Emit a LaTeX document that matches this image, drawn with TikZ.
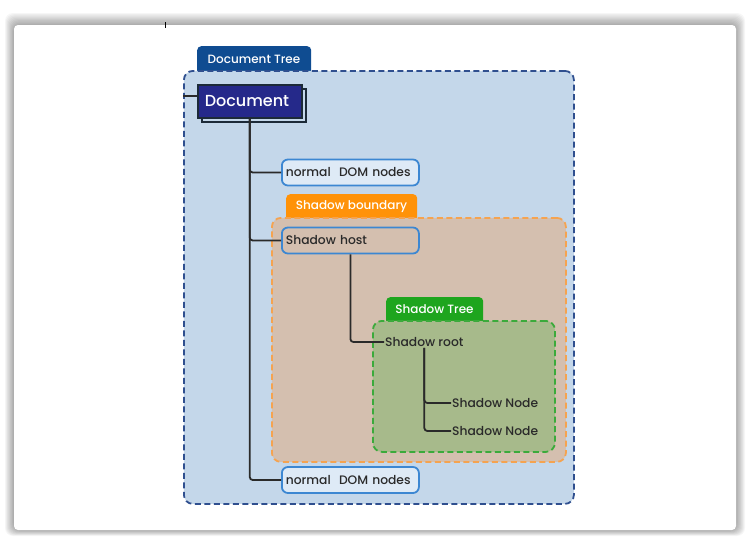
\documentclass[tikz,border=0pt]{standalone}
\usepackage{fontspec}
\setmainfont{Poppins}[UprightFont=* Medium]
\definecolor{regblue}{HTML}{C4D7EA}
\definecolor{regblueb}{HTML}{2F4F8F}
\definecolor{tabblue}{HTML}{0F4C91}
\definecolor{docfill}{HTML}{25298A}
\definecolor{docline}{HTML}{1C2A38}
\definecolor{boxline}{HTML}{3C87D2}
\definecolor{boxfill}{HTML}{DEEAF6}
\definecolor{orfill}{HTML}{D4BFAF}
\definecolor{orline}{HTML}{F5A350}
\definecolor{ortab}{HTML}{FF9208}
\definecolor{grfill}{HTML}{A7BA8B}
\definecolor{grline}{HTML}{3BAA3B}
\definecolor{grtab}{HTML}{1EA51E}
\definecolor{txt}{HTML}{2A2A2A}
\tikzset{
  region/.style={rounded corners=9pt, line width=1.8pt, dash pattern=on 6pt off 3.5pt},
  tabbox/.style={rounded corners=4pt, inner sep=0pt},
  tabtext/.style={text=white, font=\fontsize{12}{14}\selectfont, inner sep=0pt},
  domnode/.style={draw=boxline, line width=1.8pt, rounded corners=6pt, anchor=west, minimum width=137pt, minimum height=26pt, inner sep=0pt, text width=129pt, align=left, text=txt, font=\fontsize{12.3}{14}\selectfont},
  plain/.style={anchor=west, inner sep=1pt, text=txt, font=\fontsize{12.3}{14}\selectfont},
  conn/.style={draw=txt, line width=1.8pt, rounded corners=3pt}
}
\begin{document}
\begin{tikzpicture}[x=1pt,y=-1pt]
\useasboundingbox (0,0) rectangle (748,546);
\fill[white] (0,0) rectangle (748,546);
% card shadow
\foreach \i in {1,...,10}{
  \fill[black, opacity=0.035, rounded corners=8pt] (14-\i*0.9,25-\i*1.2) rectangle (736+\i*0.9,530+\i*0.6);
}
\fill[white, rounded corners=4pt] (14,25) rectangle (736,530);
\draw[black, line width=0.8pt] (165,22) -- (165,28);

% Document Tree region
\node[tabbox, fill=tabblue, minimum width=114pt, minimum height=30pt, anchor=north west] (dttab) at (197,46) {};
\node[tabtext] (dttext) at (254,59) {Document Tree};
\node[region, draw=regblueb, fill=regblue, minimum width=390pt, minimum height=433pt, anchor=north west] (dt) at (183,70) {};

% Document node
\node[draw=docline, line width=1.5pt, minimum width=104pt, minimum height=33pt, anchor=north west, fill=regblue] (docsh) at (201,88) {};
\node[draw=docline, line width=1.5pt, fill=docfill, minimum width=104pt, minimum height=33pt, anchor=north west, text=white, font=\fontsize{16}{19}\selectfont, inner sep=0pt, text width=90pt, align=left] (doc) at (197,84) {Document};

% Shadow boundary region
\node[tabbox, fill=ortab, minimum width=131pt, minimum height=28pt, anchor=north west] (sbtab) at (286,194) {};
\node[tabtext] (sbtext) at (351.5,206.5) {Shadow boundary};
\node[region, draw=orline, fill=orfill, minimum width=294pt, minimum height=244pt, anchor=north west] (sb) at (271,217) {};

% Shadow tree region
\node[tabbox, fill=grtab, minimum width=97pt, minimum height=28pt, anchor=north west] (sttab) at (386,297) {};
\node[tabtext] (sttext) at (434.5,309.5) {Shadow Tree};
\node[region, draw=grline, fill=grfill, minimum width=182pt, minimum height=131pt, anchor=north west] (st) at (372,320) {};

% nodes
\node[domnode, fill=boxfill] (n1) at (281,172.5) {normal\ \ DOM nodes};
\node[domnode, fill=orfill] (host) at (281,240.5) {Shadow host};
\node[domnode, fill=boxfill] (n2) at (281,480) {normal\ \ DOM nodes};
\node[plain] (root) at (384,342) {Shadow root};
\node[plain] (s1) at (451,403) {Shadow Node};
\node[plain] (s2) at (451,431) {Shadow Node};

% connectors
\draw[conn, rounded corners=0pt] (dt.west |- 0,96) coordinate (stub) -- (doc.west |- stub);
\draw[conn] (doc.south) |- (n1.west);
\draw[conn] (doc.south) |- (host.west);
\draw[conn] (doc.south) |- (n2.west);
\draw[conn] (host.south) |- (root.west);
\draw[conn] (root.south) |- (s1.west);
\draw[conn] (root.south) |- (s2.west);
\end{tikzpicture}
\end{document}
